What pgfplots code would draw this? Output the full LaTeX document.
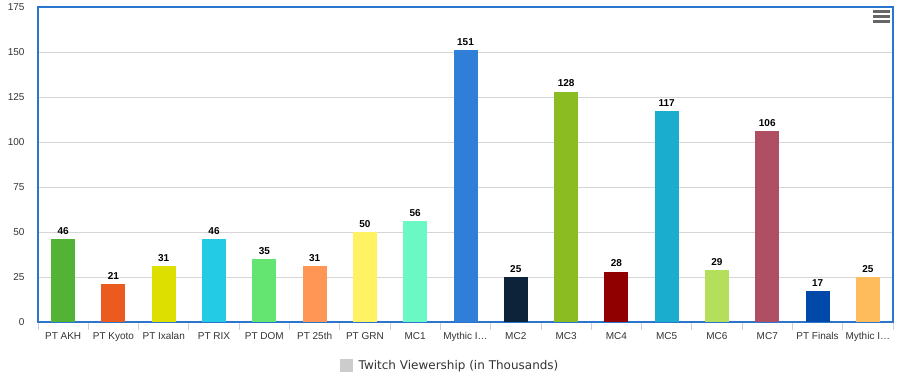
\documentclass[border=0pt]{standalone}
\usepackage{fontspec}
\setmainfont{Liberation Sans}
\newfontfamily\legfont{DejaVu Sans}
\usepackage{pgfplots}
\pgfplotsset{compat=1.18}
\definecolor{borderblue}{HTML}{2C75CC}
\definecolor{gridgray}{HTML}{D6D6D6}
\definecolor{tickgray}{HTML}{C8D2DE}
\definecolor{labelgray}{HTML}{333333}
\definecolor{legsq}{HTML}{CCCCCC}
\definecolor{c1}{HTML}{52B334}
\definecolor{c2}{HTML}{EB5A1E}
\definecolor{c3}{HTML}{DDDF00}
\definecolor{c4}{HTML}{24CBE5}
\definecolor{c5}{HTML}{64E572}
\definecolor{c6}{HTML}{FF9655}
\definecolor{c7}{HTML}{FFF263}
\definecolor{c8}{HTML}{6AF9C4}
\definecolor{c9}{HTML}{2F7ED8}
\definecolor{c10}{HTML}{0D233A}
\definecolor{c11}{HTML}{8BBC21}
\definecolor{c12}{HTML}{910000}
\definecolor{c13}{HTML}{1AADCE}
\definecolor{c14}{HTML}{B3DF5B}
\definecolor{c15}{HTML}{B04F64}
\definecolor{c16}{HTML}{0049A8}
\definecolor{c17}{HTML}{FFBC5C}
\begin{document}
\begin{tikzpicture}
\useasboundingbox (0,0) rectangle (900pt,379pt);
\begin{axis}[
  at={(38pt,57pt)}, anchor=south west,
  scale only axis, width=855pt, height=315pt,
  xmin=-0.5, xmax=16.5, ymin=0, ymax=175,
  ytick={0,25,...,175},
  xtick={0,...,16},
  xticklabels={PT AKH,PT Kyoto,PT Ixalan,PT RIX,PT DOM,PT 25th,PT GRN,MC1,Mythic I…,MC2,MC3,MC4,MC5,MC6,MC7,PT Finals,Mythic I…},
  minor xtick={-0.5,0.5,...,16.5},
  xtick pos=bottom, tick align=outside,
  major tick length=0pt, minor tick length=8pt,
  minor tick style={draw=tickgray, line width=0.8pt},
  ytick style={draw=none},
  ymajorgrids, grid style={draw=gridgray, line width=0.8pt},
  axis line style={draw=borderblue, line width=1.6pt},
  /pgf/number format/assume math mode=true,
  ticklabel style={font=\fontsize{10}{12}\selectfont, text=labelgray},
  xticklabel style={yshift=-7pt},
  yticklabel style={xshift=-10pt},
  every axis plot/.append style={ybar, bar width=24pt, bar shift=0pt, draw=none,
    nodes near coords, every node near coord/.style={font=\bfseries\fontsize{10}{12}\selectfont, text=black, anchor=south, yshift=1pt}},
  legend style={at={(0.4819,-0.1397)}, anchor=center, draw=none, fill=none,
    font=\legfont\fontsize{12}{14}\selectfont, text=labelgray},
]
\addlegendimage{legend image code/.code={\path (0pt,0pt) -- (17pt,0pt); \fill[legsq] (0pt,-6.5pt) rectangle (13pt,6.5pt);}}
\addlegendentry{Twitch Viewership (in Thousands)}
\addplot[fill=c1] coordinates {(0,46)};
\addplot[fill=c2] coordinates {(1,21)};
\addplot[fill=c3] coordinates {(2,31)};
\addplot[fill=c4] coordinates {(3,46)};
\addplot[fill=c5] coordinates {(4,35)};
\addplot[fill=c6] coordinates {(5,31)};
\addplot[fill=c7] coordinates {(6,50)};
\addplot[fill=c8] coordinates {(7,56)};
\addplot[fill=c9] coordinates {(8,151)};
\addplot[fill=c10] coordinates {(9,25)};
\addplot[fill=c11] coordinates {(10,128)};
\addplot[fill=c12] coordinates {(11,28)};
\addplot[fill=c13] coordinates {(12,117)};
\addplot[fill=c14] coordinates {(13,29)};
\addplot[fill=c15] coordinates {(14,106)};
\addplot[fill=c16] coordinates {(15,17)};
\addplot[fill=c17] coordinates {(16,25)};
\end{axis}
\foreach \yy in {366,361,356}{
  \fill[black!60] (873pt,\yy pt) rectangle (890pt,\yy pt+3pt);
}
\end{tikzpicture}
\end{document}
